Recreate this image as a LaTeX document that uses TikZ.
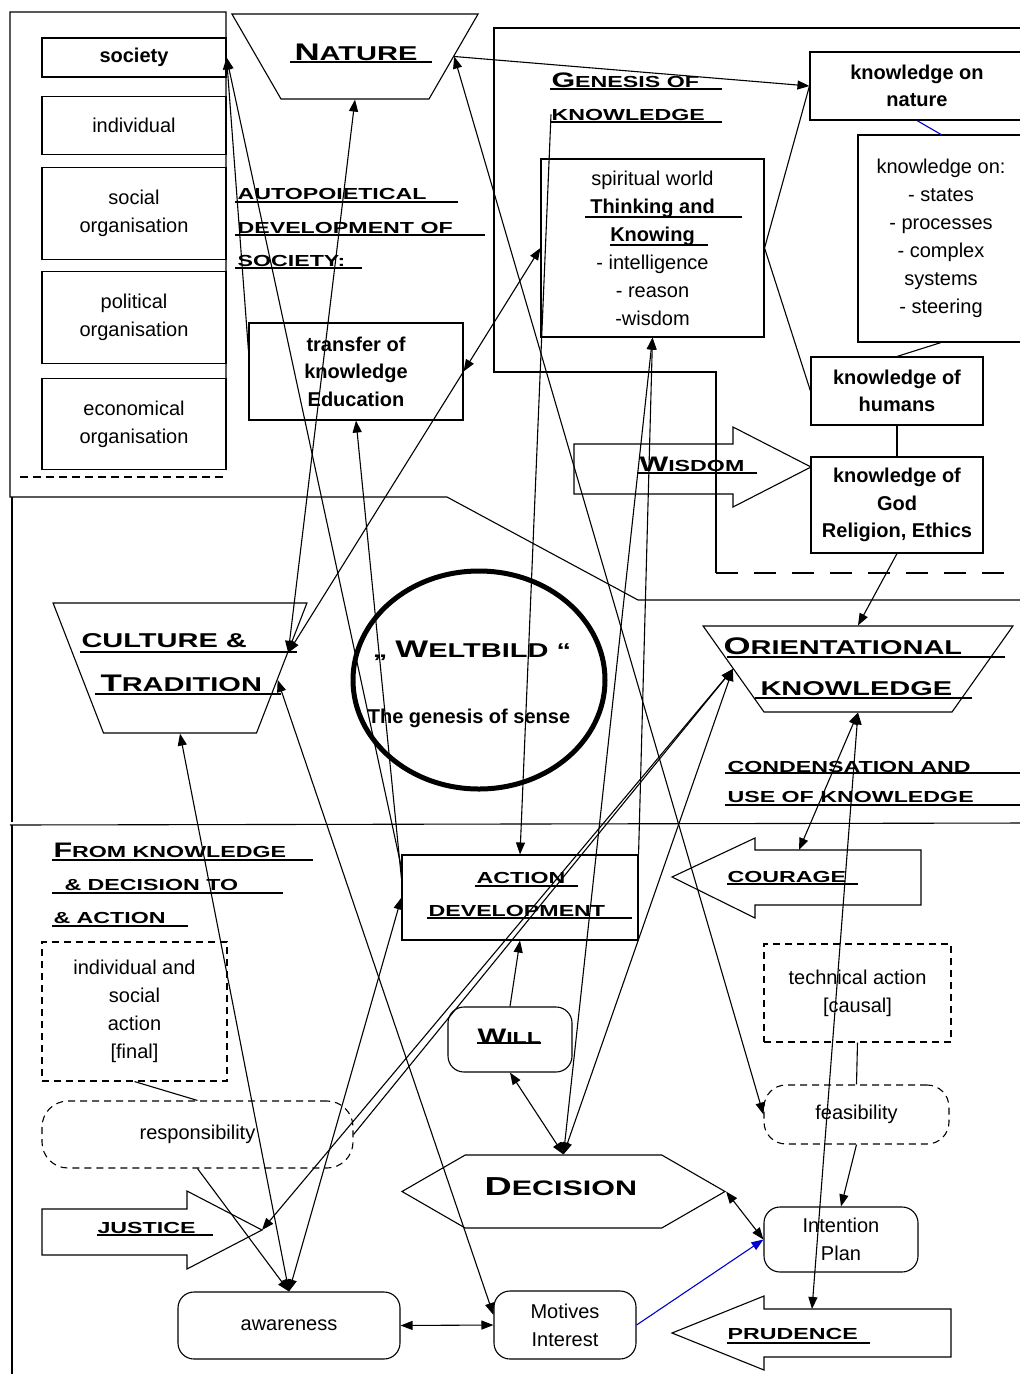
\documentclass[tikz,border=0pt]{standalone}
\usepackage{fontspec}
\setmainfont{Liberation Sans}
\newfontfamily\capfont{Liberation Sans}[FakeStretch=1.45]
\usepackage{tikz}
\usetikzlibrary{arrows.meta}
\usetikzlibrary{positioning}
\usetikzlibrary{shapes.geometric}
\usetikzlibrary{shapes.symbols}

\newcommand\hdbig[2]{{\fontsize{24}{28}\selectfont #1}{\fontsize{20}{28}\selectfont #2}}
\newcommand\hdsml[2]{{\fontsize{21}{28}\selectfont #1}{\fontsize{16}{28}\selectfont #2}}

\begin{document}
\begin{tikzpicture}[x=1pt,y=-1pt,>={Triangle[length=12pt,width=9pt]},line width=1.1pt,
                    box/.style={draw,rectangle,align=center,inner sep=0pt,font=\fontsize{20}{28}\selectfont},
                    bbox/.style={box,font=\bfseries\fontsize{20}{27.5}\selectfont},
                    dbox/.style={box,dash pattern=on 7pt off 5pt},
                    rbox/.style={box,rounded corners=16pt},
                    trap/.style={draw,trapezium,shape border rotate=180},
                    head/.style={anchor=base west,inner sep=0pt,font=\capfont\bfseries\fontsize{16}{28}\selectfont},
                    bighead/.style={head,font=\capfont\bfseries\fontsize{20}{28}\selectfont}]

  \useasboundingbox (0,0) rectangle (1020,1374);
  \clip (0,0) rectangle (1020,1374);

  % frames
  \draw (226,470) -- (226,12) -- (10,12) -- (10,497) -- (447,497) -- (638,600) -- (1030,600);
  \draw[dash pattern=on 8pt off 5pt] (20,477) -- (226,477);
  \draw (12,497) -- (12,822);
  \draw (10,825) -- (1030,823);
  \draw (12,825) -- (12,1380);
  \draw (1030,28) -- (494,28) -- (494,372) -- (716,372) -- (716,573);
  \draw[dash pattern=on 22pt off 16pt] (716,573) -- (1030,573);

  % society
  \node[bbox,minimum width=184,minimum height=39] (society) at (134,57.5) {society};
  \node[box,minimum width=184,minimum height=58] (individual) [below=18pt of society] {individual};
  \node[box,minimum width=184,minimum height=92] (socorg) [below=12pt of individual] {social\\organisation};
  \node[box,minimum width=184,minimum height=92] (polorg) [below=11pt of socorg] {political\\organisation};
  \node[box,minimum width=184,minimum height=91] (ecoorg) [below=14pt of polorg] {economical\\organisation};

  \node[trap,inner xsep=74pt,inner ysep=42.5pt,trapezium angle=60] (nature) at (355,56.5) {};
  \node[bighead,anchor=base] (naturetxt) at (356,60) {\hdbig{N}{ATURE}};

  \node[head] (autoA) at (237,199) {AUTOPOIETICAL};
  \node[head] (autoB) at (237,233) {DEVELOPMENT OF};
  \node[head] (autoC) at (237,266) {SOCIETY:};

  \node[bbox,minimum width=214,minimum height=97] (transfer) at (356,371.5) {transfer of\\knowledge\\Education};

  % genesis of knowledge
  \node[head] (genA) at (551,87) {\hdsml{G}{ENESIS OF}};
  \node[head] (genB) at (551,120) {KNOWLEDGE};
  \node[box,minimum width=223,minimum height=178] (spirit) at (652.5,248)
    {spiritual world\\\textbf{Thinking and}\\\textbf{Knowing}\\- intelligence\\- reason\\-wisdom};
  \node[bbox,minimum width=214,minimum height=68] (knnature) at (917,86) {knowledge on\\nature};
  \node[box,minimum width=166,minimum height=207] (knon) at (941,238.5)
    {knowledge on:\\- states\\- processes\\- complex\\systems\\- steering};
  \node[bbox,minimum width=172,minimum height=68] (humans) at (897,391) {knowledge of\\humans};
  \node[bbox,minimum width=172,minimum height=96] (god) at (897,505) {knowledge of\\God\\Religion, Ethics};

  \draw (574,444) -- (733,444) -- (733,427) -- (811,467) -- (733,507) -- (733,494) -- (574,494) -- cycle;
  \node[head] (wisdom) at (639,471) {\hdsml{W}{ISDOM}};

  % middle
  \node[trap,inner xsep=76.5pt,inner ysep=65pt,trapezium angle=68.8] (culture) at (180,668) {};
  \node[bighead] (cultA) at (81,647) {CULTURE \&};
  \node[bighead] (cultB) at (100,691) {\hdbig{T}{RADITION}};

  \node[draw,ellipse,line width=5pt,minimum width=252,minimum height=218] (weltbild) at (479,680) {};
  \node[bighead,anchor=base] (weltA) at (472,657) {„ \hdbig{W}{ELTBILD} “};
  \node[anchor=base,inner sep=0pt,font=\bfseries\fontsize{20}{24}\selectfont] (weltB) at (469,723) {The genesis of sense};

  \node[trap,inner xsep=94pt,inner ysep=43pt,trapezium angle=54.7] (orient) at (858,669) {};
  \node[bighead] (orientA) at (723,654) {\hdbig{O}{RIENTATIONAL}};
  \node[bighead] (orientB) at (760,695) {KNOWLEDGE};

  \node[head] (condA) at (727,772) {CONDENSATION AND};
  \node[head] (condB) at (727,802) {USE OF KNOWLEDGE};

  % from knowledge to action
  \node[head] (fromA) at (53,857) {\hdsml{F}{ROM KNOWLEDGE}};
  \node[head] (fromB) at (64,890) {\& DECISION TO};
  \node[head] (fromC) at (53,923) {\& ACTION};

  \node[box,minimum width=236,minimum height=85] (actdev) at (520,897.5) {};
  \node[head] (actA) at (476,883) {ACTION};
  \node[head] (actB) at (428,916) {DEVELOPMENT};

  \draw (921,850) -- (755,850) -- (755,838) -- (672,877) -- (755,918) -- (755,905) -- (921,905) -- cycle;
  \node[head] (courage) at (727,882) {COURAGE};
  \coordinate (couragetop) at (799,850);

  \node[dbox,minimum width=185,minimum height=139] (indiv) at (134.5,1011.5) {individual and\\social\\action\\{}[final]};
  \node[dbox,minimum width=187,minimum height=98] (techact) at (857.5,993) {technical action\\{}[causal]};

  \node[rbox,minimum width=124,minimum height=65] (will) at (510,1039.5) {};
  \node[head] (willtxt) at (477,1043) {\hdsml{W}{ILL}};

  \node[dbox,rounded corners=26pt,minimum width=311,minimum height=67] (resp) at (197.5,1134.5) {responsibility};
  \node[dbox,rounded corners=22pt,minimum width=185,minimum height=59] (feas) at (856.5,1114.5) {feasibility};

  \node[draw,signal,signal to=west and east,signal pointer angle=60,inner sep=0pt,
        minimum width=323,minimum height=73] (decision) at (563.5,1191.5) {};
  \node[bighead] (decisiontxt) at (484,1195) {{\fontsize{26}{28}\selectfont D}{\fontsize{21}{28}\selectfont ECISION}};

  \draw (42,1209) -- (187,1209) -- (187,1191) -- (262,1230) -- (187,1269) -- (187,1255) -- (42,1255) -- cycle;
  \node[head] (justice) at (97,1233) {JUSTICE};
  \coordinate (justicetip) at (262,1230);

  \node[rbox,minimum width=154,minimum height=65] (intent) at (841,1239.5) {Intention\\Plan};
  \node[rbox,minimum width=222,minimum height=67] (aware) at (289,1325.5) {awareness};
  \node[rbox,minimum width=142,minimum height=68] (motives) at (565,1325) {Motives\\Interest};

  \draw (951,1309) -- (764,1309) -- (764,1296) -- (672,1333) -- (764,1370) -- (764,1357) -- (951,1357) -- cycle;
  \node[head] (prudence) at (727,1339) {PRUDENCE};
  \coordinate (prudencetop) at (812,1309);

  % underlines
  \draw (290,62) -- (432,62)
        (235,202) -- (458,202) (235,235) -- (485,235) (235,268) -- (362,268)
        (550,89) -- (722,89) (550,122) -- (722,122)
        (585,217) -- (742,217) (610,245) -- (708,245)
        (637,473) -- (757,473)
        (80,652) -- (297,652) (95,694) -- (281,694)
        (727,657) -- (1005,657) (755,698) -- (972,698)
        (725,773) -- (1030,773) (725,805) -- (1030,805)
        (52,860) -- (313,860) (52,893) -- (283,893) (52,926) -- (188,926)
        (475,886) -- (578,886) (427,918) -- (632,918)
        (727,884) -- (858,884)
        (477,1043) -- (541,1043)
        (97,1235) -- (213,1235)
        (727,1343) -- (870,1343);

  \draw
    (nature.east) edge[->] (knnature.west)
    (nature.east) edge[<->] (feas.west)
    (nature.south) edge[<->] (culture.8)
    (actdev.166) edge[->] (society.east)
    (transfer.169) edge[->] (society.east)
    (spirit.west) edge[<->] (transfer.east)
    (transfer.east) edge[->] (culture.8)
    (culture.-7) edge[<->] (motives.172)
    (culture.south) edge[<->] (aware.north)
    (actdev.171) edge[->] (transfer.south)
    (actdev.west) edge[<->] (aware.north)
    (resp.south) edge[->] (aware.north)
    (indiv.south) edge (resp.north)
    (spirit.south) edge[<->] (decision.north)
    (orient.west) edge[<->] (decision.north)
    (will.south) edge[<->] (decision.north)
    (will.north) edge[->] (actdev.south)
    (genB.west) edge[->] (actdev.north)
    (actdev.north east) edge[->] (spirit.south)
    (resp.east) edge[->] (orient.west)
    (justicetip) edge[<->] (orient.west)
    (aware.east) edge[<->] (motives.west)
    (decision.east) edge[<->] (intent.west)
    (feas.south) edge[->] (intent.north)
    (techact.south) edge (feas.north)
    (orient.south) edge[<->] (couragetop)
    (orient.south) edge[<->] (prudencetop)
    (god.south) edge[->] (orient.north)
    (spirit.east) edge (knnature.west)
    (spirit.east) edge (humans.west)
    (knon.south) edge (humans.north)
    (humans.south) edge (god.north);

  \draw[blue!80!black] (knnature.south) -- (knon.north);
  \draw[->,blue!80!black] (motives.east) -- (intent.west);
\end{tikzpicture}
\end{document}
